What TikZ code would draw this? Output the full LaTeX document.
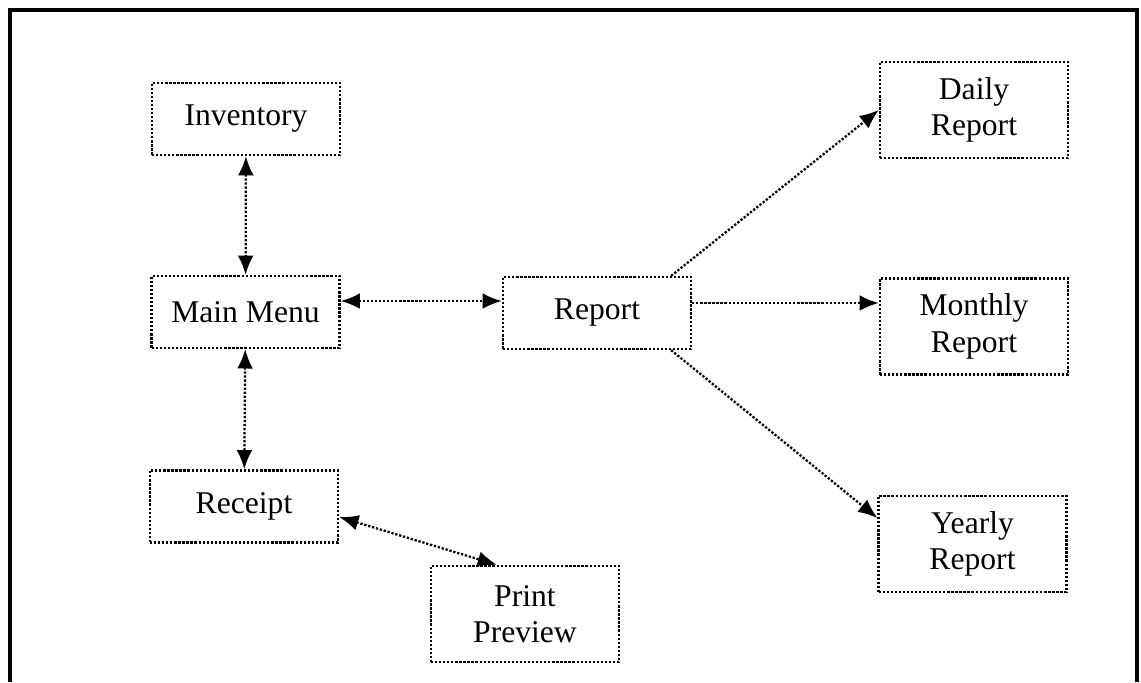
\documentclass[tikz,border=0pt]{standalone}
\usepackage{fontspec}
\setmainfont{Liberation Serif}
\usepackage{tikz}
\usetikzlibrary{positioning,arrows.meta,calc}

\begin{document}
\begin{tikzpicture}[
  every node/.style={font=\fontsize{18}{20.8}\selectfont},
  menubox/.style={rectangle, draw=black, densely dotted, line width=1.3pt,
                  minimum width=3.76cm, minimum height=1.44cm, align=center, inner sep=0pt},
  tallbox/.style={menubox, minimum height=1.92cm},
  link/.style={densely dotted, line width=1.3pt, -{Latex[length=11pt,width=9pt]}},
  duallink/.style={link, {Latex[length=11pt,width=9pt]}-{Latex[length=11pt,width=9pt]}}
]
  \useasboundingbox (0,0) rectangle (22.82,-13.64);
  % outer frame
  \draw[line width=2pt] (0.2,-13.64) -- (0.2,-0.2) -- (22.74,-0.2) -- (22.74,-13.64);

  \node[menubox] (inv)     at (4.92,-2.38)  {Inventory};
  \node[menubox] (main)    at (4.91,-6.24)  {Main Menu};
  \node[menubox] (rcpt)    at (4.88,-10.13) {Receipt};
  \node[tallbox] (prev)    at (10.50,-12.28){Print\\Preview};
  \node[menubox] (rep)     at (11.94,-6.26) {Report};
  \node[tallbox] (daily)   at (19.48,-2.20) {Daily\\Report};
  \node[tallbox] (monthly) at (19.48,-6.53) {Monthly\\Report};
  \node[tallbox] (yearly)  at (19.45,-10.88){Yearly\\Report};

  \draw[duallink] (inv) -- (main);
  \draw[duallink] (main) -- (rcpt);
  \draw[duallink] ([yshift=.22cm]main.east) -- ([yshift=.22cm]main.east -| rep.west);
  \draw[duallink] ([yshift=-.21cm]rcpt.east) -- ([xshift=-.56cm]prev.north);
  \draw[link] ([xshift=-.42cm]rep.north east) -- (daily.west);
  \draw[link] ([yshift=.2cm]rep.east) -- ([yshift=.2cm]rep.east -| monthly.west);
  \draw[link] ([xshift=-.42cm]rep.south east) -- ([yshift=.52cm]yearly.west);
\end{tikzpicture}
\end{document}
